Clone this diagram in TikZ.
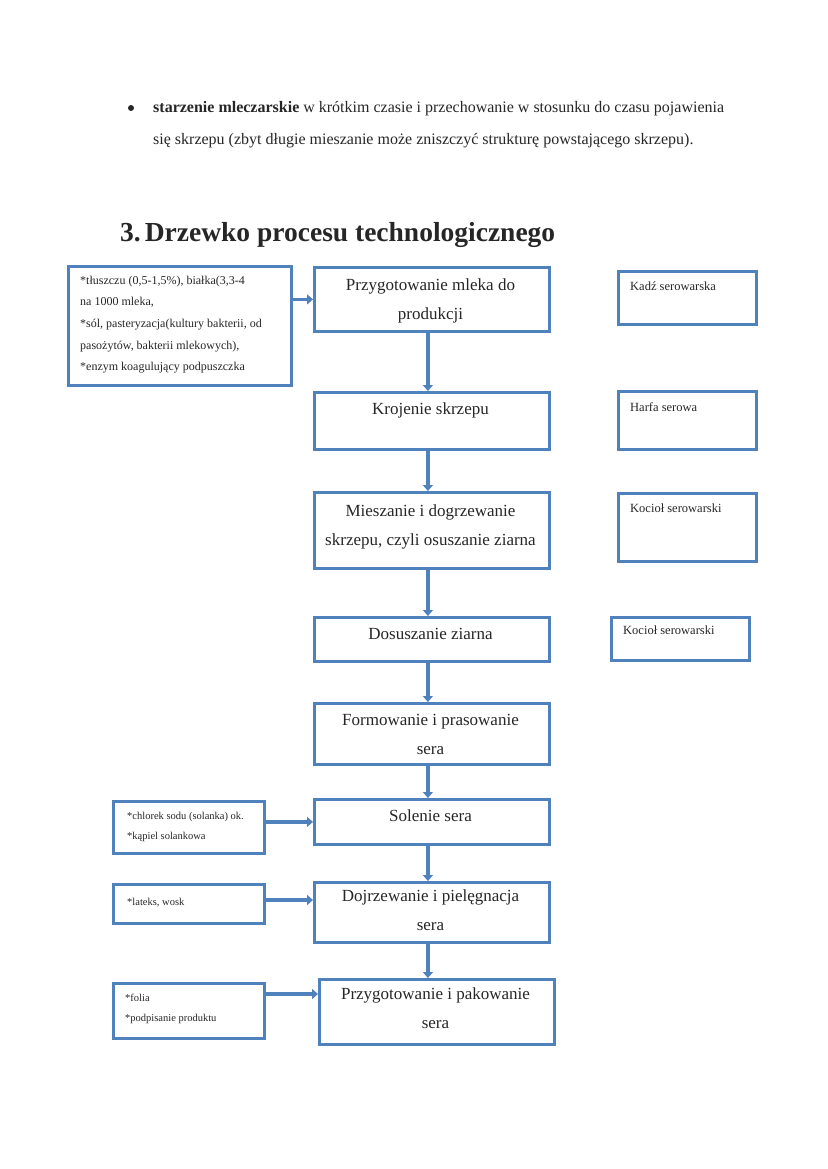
\documentclass[tikz,border=0pt]{standalone}
\usepackage{fontspec}
\setmainfont{Liberation Serif}
\usetikzlibrary{arrows.meta,calc}
\definecolor{boxblue}{HTML}{4F81BD}
\definecolor{txt}{HTML}{262626}
\newcommand\mlines[1]{\parbox[t]{232pt}{\centering #1}}
\newcommand\slines[1]{\parbox[t]{220pt}{\raggedright #1}}
\tikzset{
  box/.style={draw=boxblue, line width=2.8pt, inner sep=0pt, anchor=north west},
  conn/.style={draw=boxblue, line width=3.6pt, -{Triangle[length=6pt,width=10pt]}},
  mtext/.style={anchor=base, inner sep=0pt, text=txt, font=\fontsize{17}{29}\selectfont},
  stext/.style={anchor=base west, inner sep=0pt, text=txt, font=\fontsize{12}{21.7}\selectfont},
  btext/.style={anchor=base west, inner sep=0pt, text=txt, font=\fontsize{10.5}{20.5}\selectfont},
  rtext/.style={anchor=base west, inner sep=0pt, text=txt, font=\fontsize{12.5}{14}\selectfont},
  bodytext/.style={anchor=base west, inner sep=0pt, text=txt, font=\fontsize{16}{32}\selectfont},
  headtext/.style={anchor=base west, inner sep=0pt, text=txt, font=\fontsize{27.5}{30}\selectfont\bfseries},
}
\begin{document}
\begin{tikzpicture}[x=1pt,y=-1pt]
\useasboundingbox (0,0) rectangle (827,1169);
% bullet paragraph
\fill[txt] (131,108) circle (3) coordinate (bul);
\node[bodytext] (para) at (153,113) {\parbox[t]{620pt}{\raggedright\textbf{starzenie mleczarskie} w krótkim czasie i przechowanie w stosunku do czasu pojawienia\\
się skrzepu (zbyt długie mieszanie może zniszczyć strukturę powstającego skrzepu).}};
% heading
\node[headtext] (head) at (120,241) {3.\hspace{4pt}Drzewko procesu technologicznego};

% main column
\node[box, minimum width=235pt, minimum height=64pt] (m1) at (313,266) {};
\node[box, minimum width=235pt, minimum height=57pt] (m2) at (313,391) {};
\node[box, minimum width=235pt, minimum height=76pt] (m3) at (313,491) {};
\node[box, minimum width=235pt, minimum height=44pt] (m4) at (313,616) {};
\node[box, minimum width=235pt, minimum height=61pt] (m5) at (313,702) {};
\node[box, minimum width=235pt, minimum height=45pt] (m6) at (313,798) {};
\node[box, minimum width=235pt, minimum height=60pt] (m7) at (313,881) {};
\node[box, minimum width=235pt, minimum height=65pt] (m8) at (318,978) {};

\node[mtext] (m1t) at (430.5,290) {\mlines{Przygotowanie mleka do\\produkcji}};
\node[mtext] (m2t) at (430.5,414) {\mlines{Krojenie skrzepu}};
\node[mtext] (m3t) at (430.5,516) {\mlines{Mieszanie i dogrzewanie\\skrzepu, czyli osuszanie ziarna}};
\node[mtext] (m4t) at (430.5,639) {\mlines{Dosuszanie ziarna}};
\node[mtext] (m5t) at (430.5,725) {\mlines{Formowanie i prasowanie\\sera}};
\node[mtext] (m6t) at (430.5,821) {\mlines{Solenie sera}};
\node[mtext] (m7t) at (430.5,901) {\mlines{Dojrzewanie i pielęgnacja\\sera}};
\node[mtext] (m8t) at (435.5,999) {\mlines{Przygotowanie i pakowanie\\sera}};

\foreach \a/\b in {m1/m2,m2/m3,m3/m4,m4/m5,m5/m6,m6/m7,m7/m8}
  \draw[conn] ($(\a.south)+(-4,0)$) -- ($(\a.south |- \b.north)+(-4,0)$);

% left boxes
\node[box, minimum width=223pt, minimum height=119pt] (l1) at (67,265) {};
\node[stext] (l1t) at (80,284) {\slines{*tłuszczu (0,5-1,5\%), białka(3,3-4\\
na 1000 mleka,\\{}
*sól, pasteryzacja(kultury bakterii, od\\
pasożytów, bakterii mlekowych),\\{}
*enzym koagulujący podpuszczka}};
\node[box, minimum width=151pt, minimum height=52pt] (l2) at (112,800) {};
\node[btext] (l2t) at (127,819) {\slines{*chlorek sodu (solanka) ok.\\{}*kąpiel solankowa}};
\node[box, minimum width=151pt, minimum height=39pt] (l3) at (112,883) {};
\node[btext] (l3t) at (127,905) {\slines{*lateks, wosk}};
\node[box, minimum width=151pt, minimum height=55pt] (l4) at (112,982) {};
\node[btext] (l4t) at (125,1001) {\slines{*folia\\{}*podpisanie produktu}};

\draw[conn] (l1.east |- m1.west) -- (m1.west);
\draw[conn] (l2.east |- m6.west) -- (m6.west);
\draw[conn] ($(l3.north east)+(0,17)$) -- ($(l3.north east -| m7.west)+(0,17)$);
\draw[conn] ($(l4.north east)+(0,12)$) -- ($(l4.north east -| m8.west)+(0,12)$);

% right boxes
\node[box, minimum width=138pt, minimum height=53pt] (r1) at (617,270) {};
\node[rtext] (r1t) at (630,290) {Kadź serowarska};
\node[box, minimum width=138pt, minimum height=58pt] (r2) at (617,390) {};
\node[rtext] (r2t) at (630,411) {Harfa serowa};
\node[box, minimum width=138pt, minimum height=68pt] (r3) at (617,492) {};
\node[rtext] (r3t) at (630,512) {Kocioł serowarski};
\node[box, minimum width=138pt, minimum height=43pt] (r4) at (610,616) {};
\node[rtext] (r4t) at (623,634) {Kocioł serowarski};
\end{tikzpicture}
\end{document}
